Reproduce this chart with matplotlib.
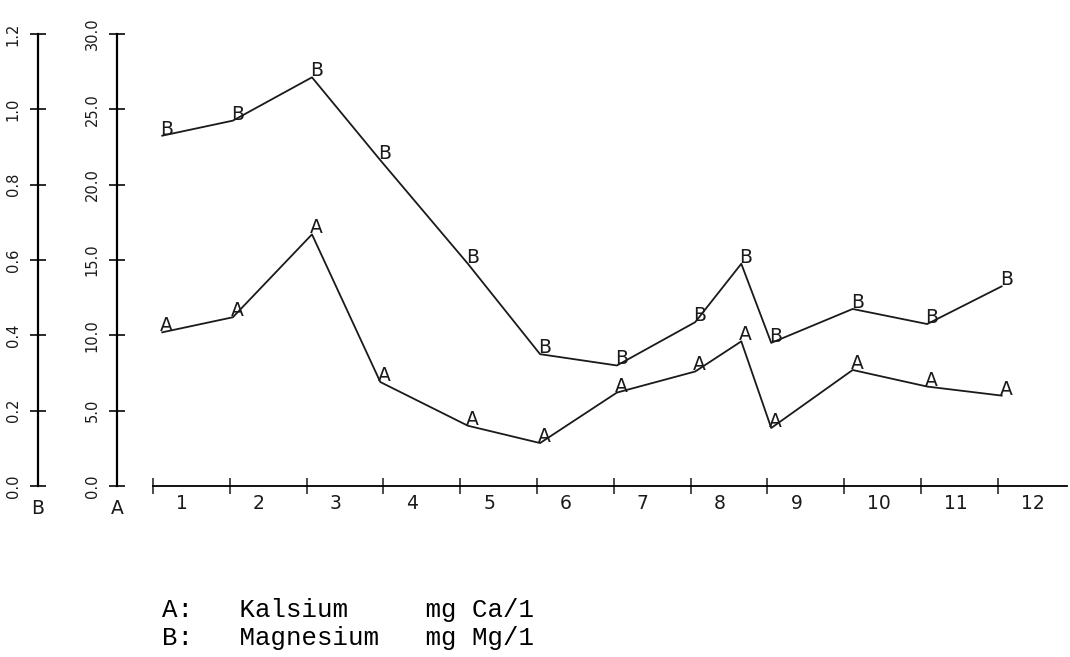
import matplotlib
matplotlib.use("Agg")
import matplotlib.pyplot as plt
import matplotlib.transforms as mtransforms

# sampling positions along the month axis (month k spans k-1 .. k)
sample_month = [0.12, 1.04, 2.07, 2.96, 4.10, 5.04, 6.04, 7.06, 7.66, 8.05, 9.11, 10.08, 11.05]

# A: Kalsium, mg Ca/l
kalsium = [10.2, 11.2, 16.7, 6.9, 4.0, 2.85, 6.2, 7.6, 9.6, 3.85, 7.7, 6.6, 6.0]
# B: Magnesium, mg Mg/l
magnesium = [0.93, 0.97, 1.085, 0.865, 0.59, 0.35, 0.32, 0.435, 0.59, 0.38, 0.47, 0.43, 0.53]

month_labels = ["1", "2", "3", "4", "5", "6", "7", "8", "9", "10", "11", "12"]
a_ticks = [0, 5, 10, 15, 20, 25, 30]
b_ticks = [0.0, 0.2, 0.4, 0.6, 0.8, 1.0, 1.2]
legend_lines = ["A:   Kalsium     mg Ca/1",
                "B:   Magnesium   mg Mg/1"]

W, H = 1070, 657
fig = plt.figure(figsize=(W / 100, H / 100), dpi=100)
ax = fig.add_axes([153 / W, 1 - 486 / H, (1067 - 153) / W, (486 - 34) / H])
ax2 = ax.twinx()

ink = "#1a1a1a"
plot_font = "DejaVu Sans"

# axis A (Kalsium)
ax.set_xlim(0, (1067 - 153) / 76.8)
ax.set_ylim(0, 30)
for s in ["top", "right"]:
    ax.spines[s].set_visible(False)
ax.spines["left"].set_position(("outward", 36 * 0.72))
ax.spines["left"].set_linewidth(1.6)
ax.spines["bottom"].set_linewidth(1.3)
ax.set_yticks(a_ticks)
ax.set_yticklabels(["%.1f" % v for v in a_ticks], rotation=90, va="center",
                   fontsize=10.5, family=plot_font, color=ink)
ax.tick_params(axis="y", direction="inout", length=11, width=1.3, pad=7, colors=ink)
ax.set_xticks(range(0, 12))
ax.set_xticklabels([])
ax.tick_params(axis="x", direction="inout", length=11, width=1.1, colors=ink)

# axis B (Magnesium)
ax2.set_ylim(0, 1.2)
for s in ["top", "right", "bottom"]:
    ax2.spines[s].set_visible(False)
ax2.yaxis.set_ticks_position("left")
ax2.spines["left"].set_position(("outward", 115 * 0.72))
ax2.spines["left"].set_linewidth(1.6)
ax2.set_yticks(b_ticks)
ax2.set_yticklabels(["%.1f" % v for v in b_ticks], rotation=90, va="center",
                    fontsize=10.5, family=plot_font, color=ink)
ax2.tick_params(axis="y", direction="inout", length=11, width=1.3, pad=7, colors=ink)

# month labels, left aligned just after each tick
trans = mtransforms.blended_transform_factory(ax.transData, ax.transAxes)
for k, lab in enumerate(month_labels):
    ax.text(k + 0.30, -0.018, lab, transform=trans, ha="left", va="top",
            fontsize=13.5, family=plot_font, color=ink)

# axis names under the vertical axes
fig.text(38 / W, 1 - 508 / H, "B", ha="center", va="center", fontsize=13.5,
         family=plot_font, color=ink)
fig.text(117 / W, 1 - 508 / H, "A", ha="center", va="center", fontsize=13.5,
         family=plot_font, color=ink)

# curves with letter markers
ax.plot(sample_month, kalsium, color=ink, lw=1.3, clip_on=False)
ax2.plot(sample_month, magnesium, color=ink, lw=1.3, clip_on=False)
off = mtransforms.offset_copy(ax.transData, fig=fig, x=-2, y=1, units="dots")
off2 = mtransforms.offset_copy(ax2.transData, fig=fig, x=-2, y=1, units="dots")
for x, y in zip(sample_month, kalsium):
    ax.text(x, y, "A", transform=off, ha="left", va="baseline", fontsize=13.5,
            family=plot_font, color=ink)
for x, y in zip(sample_month, magnesium):
    ax2.text(x, y, "B", transform=off2, ha="left", va="baseline", fontsize=13.5,
             family=plot_font, color=ink)

# typed legend
for line, base in zip(legend_lines, [617, 645]):
    fig.text(162 / W, 1 - base / H, line, family="Liberation Mono", fontsize=18.5,
             va="baseline", ha="left", color="black")

fig.savefig("out.png", dpi=100)
